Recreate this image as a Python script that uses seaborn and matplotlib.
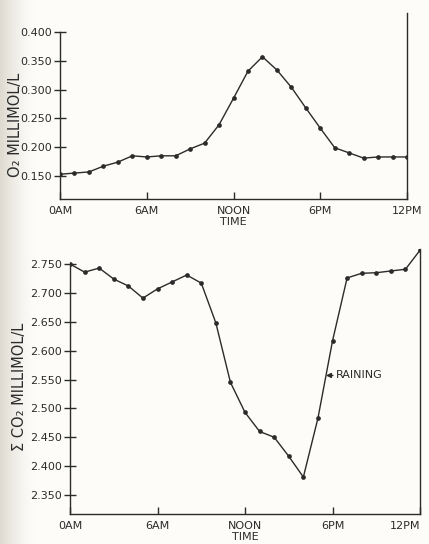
import numpy as np
import matplotlib
matplotlib.use("Agg")
import matplotlib.pyplot as plt
import seaborn as sns

# Hourly readings over one day (hour 0 = midnight, 24 = next midnight)
hours = list(range(25))
o2_values = [0.153, 0.155, 0.157, 0.167, 0.174, 0.185, 0.183, 0.185, 0.185,
             0.197, 0.207, 0.239, 0.285, 0.332, 0.357, 0.334, 0.304, 0.268,
             0.233, 0.199, 0.190, 0.181, 0.183, 0.183, 0.183]
co2_values = [2.750, 2.736, 2.743, 2.724, 2.712, 2.691, 2.707, 2.719, 2.731,
              2.717, 2.648, 2.545, 2.493, 2.460, 2.450, 2.417, 2.381, 2.483,
              2.617, 2.726, 2.734, 2.735, 2.738, 2.741, 2.774]

time_ticks = [0, 6, 12, 18, 24]
time_labels = ["0AM", "6AM", "NOON", "6PM", "12PM"]
o2_ticks = [0.150, 0.200, 0.250, 0.300, 0.350, 0.400]
co2_ticks = [2.350, 2.400, 2.450, 2.500, 2.550, 2.600, 2.650, 2.700, 2.750]
rain_label = "RAINING"
rain_point = (17.55, 2.557)

sns.set_style("ticks")
plt.rcParams["font.family"] = ["DejaVu Sans"]

INK = "#2b2b2b"

fig = plt.figure(figsize=(4.29, 5.44), dpi=100)
fig.patch.set_facecolor("#fdfcf9")

# faint paper shading along the left edge
bg = fig.add_axes([0, 0, 1, 1], zorder=-10)
grad = np.linspace(0, 1, 429)
shade = np.clip(1 - grad / 0.08, 0, 1) ** 1.5
img = np.ones((2, 429, 3))
base = np.array([253, 252, 249]) / 255
edge = np.array([222, 218, 208]) / 255
img[:] = base + (edge - base) * shade[None, :, None]
bg.imshow(img, aspect="auto", extent=[0, 1, 0, 1])
bg.axis("off")

ax1 = fig.add_axes([0.1399, 0.6342, 0.8089, 0.3419])
ax2 = fig.add_axes([0.1632, 0.0551, 0.8159, 0.4871])

line_kw = dict(color=INK, linewidth=1.0, marker="o", markersize=3.4,
               markeredgewidth=0, markerfacecolor=INK)

sns.lineplot(x=hours, y=o2_values, ax=ax1, **line_kw)
sns.lineplot(x=hours, y=co2_values, ax=ax2, **line_kw)


def style_axis(ax, ylim, yticks, fmt, left_top):
    ax.set_facecolor("none")
    ax.set_xlim(0, 24)
    ax.set_ylim(*ylim)
    ax.set_xticks(time_ticks)
    ax.set_xticklabels(time_labels)
    ax.set_yticks(yticks)
    ax.set_yticklabels([fmt.format(v) for v in yticks])
    ax.spines["top"].set_visible(False)
    for side in ("left", "right", "bottom"):
        ax.spines[side].set_color(INK)
        ax.spines[side].set_linewidth(1.0)
    ax.spines["left"].set_bounds(ylim[0], left_top)
    ax.tick_params(axis="x", direction="in", length=5, width=1.0, color=INK,
                   labelsize=8, pad=5, labelcolor=INK)
    ax.tick_params(axis="y", direction="inout", length=8, width=1.0, color=INK,
                   labelsize=8, pad=2, labelcolor=INK)
    ax.grid(False)


style_axis(ax1, (0.110, 0.433), o2_ticks, "{:.3f}", 0.400)
style_axis(ax2, (2.317, 2.776), co2_ticks, "{:.3f}", 2.752)

# keep the last time label of the lower panel inside the figure edge
ax2.get_xticklabels()[-1].set_horizontalalignment("right")
ax2.get_xticklabels()[-1].set_x(24.6)

ax1.set_xlabel("TIME", fontsize=8, color=INK, labelpad=1)
ax2.set_xlabel("TIME", fontsize=8, color=INK, labelpad=1)
ax1.set_ylabel("O\u2082 MILLIMOL/L", fontsize=10.5, color=INK)
ax2.set_ylabel("\u03a3 CO\u2082 MILLIMOL/L", fontsize=10.5, color=INK)
ax1.yaxis.set_label_coords(-0.108, 0.40)
ax2.yaxis.set_label_coords(-0.122, 0.48)

ax2.annotate(rain_label, xy=rain_point, xytext=(18.25, rain_point[1]),
             fontsize=8, color=INK, ha="left", va="center",
             arrowprops=dict(arrowstyle="-|>", color=INK, lw=1.0,
                             mutation_scale=7, shrinkA=0, shrinkB=0))

fig.savefig("out.png", dpi=100, facecolor=fig.get_facecolor())
